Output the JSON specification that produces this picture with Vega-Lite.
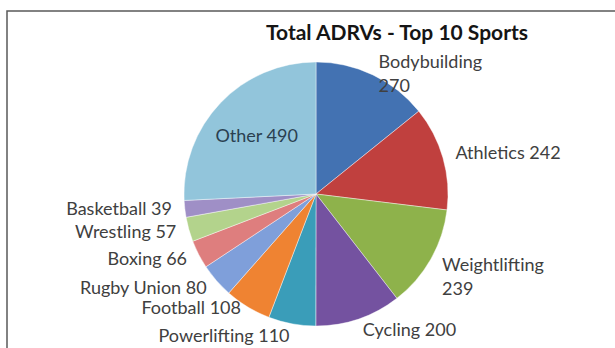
{
  "$schema": "https://vega.github.io/schema/vega-lite/v6.json",
  "autosize": "none",
  "width": 618,
  "height": 366,
  "padding": {"left": 7, "top": 11, "right": 0, "bottom": 0},
  "background": "white",
  "title": {
    "text": "Total ADRVs - Top 10 Sports",
    "anchor": "middle",
    "dx": 81,
    "offset": -33,
    "font": "Lato",
    "fontSize": 21,
    "fontWeight": "bold",
    "color": "#151515"
  },
  "view": {"stroke": "#5a5a5a", "strokeWidth": 1.5, "fill": "white"},
  "data": {
    "values": [
      {"rank": 1, "sport": "Bodybuilding", "value": 270, "label": "Bodybuilding\n270"},
      {"rank": 2, "sport": "Athletics", "value": 242, "label": "Athletics 242"},
      {"rank": 3, "sport": "Weightlifting", "value": 239, "label": "Weightlifting\n239"},
      {"rank": 4, "sport": "Cycling", "value": 200, "label": "Cycling 200"},
      {"rank": 5, "sport": "Powerlifting", "value": 110, "label": "Powerlifting 110"},
      {"rank": 6, "sport": "Football", "value": 108, "label": "Football 108"},
      {"rank": 7, "sport": "Rugby Union", "value": 80, "label": "Rugby Union 80"},
      {"rank": 8, "sport": "Boxing", "value": 66, "label": "Boxing 66"},
      {"rank": 9, "sport": "Wrestling", "value": 57, "label": "Wrestling 57"},
      {"rank": 10, "sport": "Basketball", "value": 39, "label": "Basketball 39"},
      {"rank": 11, "sport": "Other", "value": 490, "label": "Other 490"}
    ]
  },
  "encoding": {
    "theta": {"field": "value", "type": "quantitative", "stack": true},
    "order": {"field": "rank", "type": "quantitative"}
  },
  "layer": [
    {
      "mark": {"type": "arc", "outerRadius": 132, "stroke": "#ffffff", "strokeWidth": 0.6, "strokeOpacity": 0.7},
      "encoding": {
        "color": {
          "field": "sport",
          "type": "nominal",
          "legend": null,
          "scale": {
            "domain": ["Bodybuilding", "Athletics", "Weightlifting", "Cycling", "Powerlifting", "Football", "Rugby Union", "Boxing", "Wrestling", "Basketball", "Other"],
            "range": ["#4372B2", "#C0403E", "#8EB24B", "#7452A0", "#3A9DB9", "#EF8332", "#7F9FDA", "#DE7E7E", "#B3D38C", "#9F8FC6", "#92C5DB"]
          }
        }
      }
    },
    {
      "mark": {
        "type": "text",
        "radius": 145,
        "align": {"expr": "sin(scale('theta', (datum.value_start + datum.value_end) / 2)) > 0.1 ? 'left' : (sin(scale('theta', (datum.value_start + datum.value_end) / 2)) < -0.1 ? 'right' : 'center')"},
        "baseline": {"expr": "(cos(scale('theta', (datum.value_start + datum.value_end) / 2)) < -0.8 && cos(scale('theta', (datum.value_start + datum.value_end) / 2)) > -0.9) ? 'bottom' : 'middle'"},
        "font": "Lato",
        "fontSize": 18,
        "lineBreak": "\n",
        "lineHeight": 24,
        "fill": "#404040"
      },
      "encoding": {
        "detail": {"field": "sport"},
        "text": {"condition": {"test": "datum.sport === 'Other'", "value": ""}, "field": "label"}
      }
    },
    {
      "mark": {
        "type": "text",
        "radius": 82,
        "align": "center",
        "baseline": "middle",
        "font": "Lato",
        "fontSize": 18,
        "fill": "#2a4050"
      },
      "encoding": {
        "detail": {"field": "sport"},
        "text": {"condition": {"test": "datum.sport !== 'Other'", "value": ""}, "field": "label"}
      }
    }
  ]
}
